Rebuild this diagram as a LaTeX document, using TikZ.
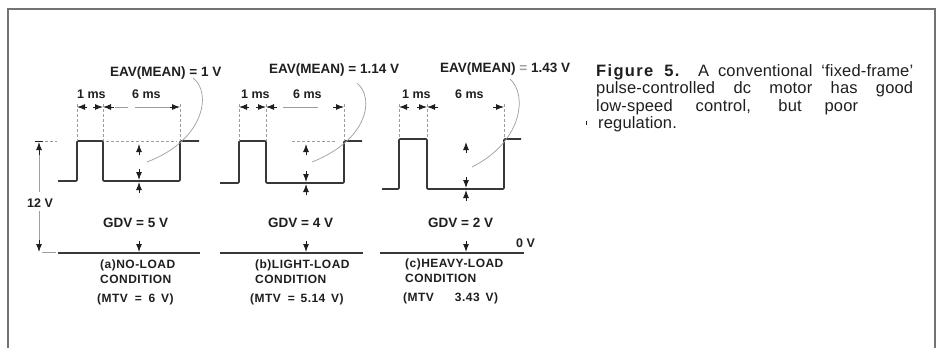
\documentclass[tikz,border=0pt]{standalone}
\usepackage{fontspec}
\setmainfont{Liberation Sans}
\newfontfamily\condfont[LetterSpace=4]{Liberation Sans}
\newfontfamily\capfont[LetterSpace=1]{Liberation Sans}
\usetikzlibrary{arrows.meta}
\definecolor{ink}{gray}{0.12}
\definecolor{wave}{gray}{0.22}
\definecolor{faint}{gray}{0.62}
\definecolor{framec}{gray}{0.45}
\tikzset{
  pulse/.style={draw=wave, line width=1.6pt, rounded corners=1pt},
  zeroline/.style={draw=wave, line width=1.6pt},
  extline/.style={draw=faint, line width=0.5pt, dash pattern=on 3pt off 2pt},
  thinline/.style={draw=faint, line width=0.6pt},
  leader/.style={draw=faint, line width=0.7pt},
  dimarr/.style={draw=ink, line width=1pt, -{Latex[length=8pt,width=6pt]}},
  lbl/.style={inner sep=0pt, anchor=base west, text=ink, font=\bfseries\fontsize{13.5}{15}\selectfont},
  mslbl/.style={lbl, font=\bfseries\fontsize{12.5}{15}\selectfont},
  condlbl/.style={inner sep=0pt, anchor=base west, text=ink, font=\condfont\bfseries\fontsize{12}{14}\selectfont},
  caplbl/.style={inner sep=0pt, anchor=base west, text=ink, font=\capfont\fontsize{16.5}{18}\selectfont}
}
\begin{document}
\begin{tikzpicture}[x=1pt,y=-1pt]
\useasboundingbox (0,0) rectangle (936,348);
\fill[white] (0,0) rectangle (936,348);
% frame
\draw[framec, line width=1.3pt] (8,348) -- (8,9) -- (935,9) -- (935,348);

% panels
\foreach \L/\Ra/\F/\Rb/\E/\H/\Lo/\M/\zl/\zr in
  {58/77/103/180/199/141/181/139/58/200,
   220/239/266/344/362/141/183/306/220/363,
   382/399/427/504/521/139/189/466/380/524}{
  \draw[pulse] (\L,\Lo) -- (\Ra,\Lo) -- (\Ra,\H) -- (\F,\H) -- (\F,\Lo) -- (\Rb,\Lo) -- (\Rb,\H) -- (\E,\H);
  \draw[zeroline] (\zl,253) -- (\zr,253);
  % extension lines
  \draw[extline] (\Ra,104) -- (\Ra,\H);
  \draw[extline] (\F,104) -- (\F,\H);
  \draw[extline] (\Rb,104) -- (\Rb,\H);
  % time dimension arrows
  \draw[dimarr] ({\Ra+10},107) -- (\Ra,107);
  \draw[dimarr] ({\F-10},107) -- (\F,107);
  \draw[dimarr] ({\F+11},107) -- (\F,107);
  \draw[dimarr] ({\Rb-11},107) -- (\Rb,107);
  % EAV and GDV arrows
  \draw[dimarr] (\M,{\H+14}) -- (\M,{\H+3});
  \draw[dimarr] (\M,{\Lo-12}) -- (\M,{\Lo-1});
  \draw[dimarr] (\M,{\Lo+12}) -- (\M,{\Lo+1});
  \draw[dimarr] (\M,241) -- (\M,252);
}
% faint dimension lines and level lines
\draw[thinline] (115,107) -- (128,107);
\draw[thinline] (135,107) -- (170,107);
\draw[thinline] (283,107) -- (318,107);
\draw[extline] (106,141) -- (177,141);
\draw[extline] (292,141) -- (336,141);

% 12 V dimension
\draw[ink, line width=0.9pt] (35,141) -- (43,141);
\draw[extline] (45,141) -- (57,141);
\draw[dimarr] (39,155) -- (39,142);
\draw[thinline] (39,155) -- (39,192);
\draw[thinline] (39,211) -- (39,240);
\draw[dimarr] (39,240) -- (39,252);
\draw[thinline] (42,252) -- (56,252);

% leaders
\draw[leader] (193,78) .. controls (212,92) and (205,140) .. (147,162);
\draw[leader] (357,83) .. controls (375,98) and (368,140) .. (312,162);
\draw[leader] (510,79) .. controls (528,95) and (522,142) .. (472,167);

% labels panel a
\node[lbl] (eava) at (110,76) {EAV(MEAN) = 1 V};
\node[mslbl] (msa1) at (77,98) {1 ms};
\node[mslbl] (msa6) at (132,98) {6 ms};
\node[lbl] (gdva) at (103,227) {GDV = 5 V};
\node[condlbl] (conda1) at (100,268.5) {(a)NO-LOAD};
\node[condlbl] (conda2) at (100,283) {CONDITION};
\node[condlbl] (mtva) at (97,302) {(MTV\hspace{3pt} = \hspace{3pt}6\hspace{2pt} V)};
\node[mslbl] (twelve) at (27,207) {12 V};
% labels panel b
\node[lbl] (eavb) at (269,73) {EAV(MEAN) = 1.14 V};
\node[mslbl] (msb1) at (241,98) {1 ms};
\node[mslbl] (msb6) at (293,98) {6 ms};
\node[lbl] (gdvb) at (268,227) {GDV = 4 V};
\node[condlbl] (condb1) at (255,268.5) {(b)LIGHT-LOAD};
\node[condlbl] (condb2) at (255,283) {CONDITION};
\node[condlbl] (mtvb) at (250,302) {(MTV\hspace{3pt} = \hspace{2pt}5.14\hspace{2pt} V)};
% labels panel c
\node[lbl] (eavc) at (440,72) {EAV(MEAN) {\color{faint}=} 1.43 V};
\node[mslbl] (msc1) at (402,98) {1 ms};
\node[mslbl] (msc6) at (455,98) {6 ms};
\node[lbl] (gdvc) at (428,227) {GDV = 2 V};
\node[condlbl] (condc1) at (405,267.5) {(c)HEAVY-LOAD};
\node[condlbl] (condc2) at (405,282) {CONDITION};
\node[condlbl] (mtvc) at (403,301.5) {(MTV\hspace{21pt}3.43\hspace{2pt} V)};
\node[mslbl] (zerov) at (516,247) {0 V};

% caption
\node[caplbl] (cap1) at (596,76) {\makebox[317pt][s]{{\bfseries\addfontfeatures{LetterSpace=8}Figure 5.} A conventional ‘fixed-frame’}};
\node[caplbl] (cap2) at (596,93.5) {\makebox[317pt][s]{pulse-controlled dc motor has good}};
\node[caplbl] (cap3) at (596,111) {\makebox[262pt][s]{low-speed control, but poor}};
\node[caplbl] (cap4) at (598,128.5) {regulation.};
\draw[ink, line width=1pt] (586,121) -- (586,125);
\end{tikzpicture}
\end{document}
